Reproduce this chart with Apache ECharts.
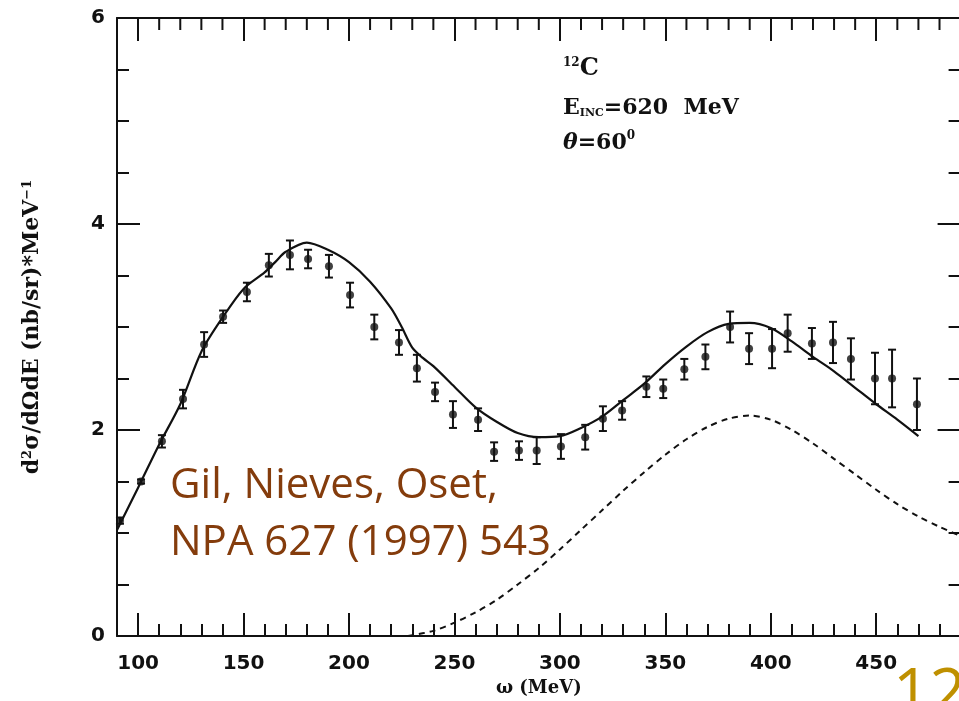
<!DOCTYPE html>
<html>
<head>
<meta charset="utf-8">
<script src="https://cdn.jsdelivr.net/npm/echarts@6/dist/echarts.min.js"></script>
<style>
html,body{margin:0;padding:0;background:#fff;}
#chart{width:959px;height:701px;}
</style>
</head>
<body>
<div id="chart"></div>
<script>
// ---- data ----
var omega = [91.4, 101.4, 111.3, 121.3, 131.3, 140.3, 151.6, 162.0, 172.0, 180.6, 190.5, 200.5, 212.0, 223.7, 232.2, 240.8, 249.3, 261.2, 268.8, 280.6, 289.0, 300.5, 312.0, 320.4, 329.5, 341.0, 349.0, 359.0, 369.0, 380.7, 389.7, 400.6, 408.0, 419.5, 429.5, 438.0, 449.4, 457.5, 469.3];
var sigma = [1.12, 1.50, 1.89, 2.30, 2.83, 3.10, 3.34, 3.60, 3.70, 3.66, 3.59, 3.31, 3.00, 2.85, 2.60, 2.37, 2.15, 2.10, 1.79, 1.80, 1.80, 1.84, 1.93, 2.11, 2.19, 2.42, 2.40, 2.59, 2.71, 3.00, 2.79, 2.79, 2.94, 2.84, 2.85, 2.69, 2.50, 2.50, 2.25];
var sigmaErr = [0.03, 0.02, 0.06, 0.09, 0.12, 0.06, 0.09, 0.11, 0.14, 0.09, 0.11, 0.12, 0.12, 0.12, 0.13, 0.09, 0.13, 0.11, 0.09, 0.09, 0.13, 0.12, 0.12, 0.12, 0.09, 0.10, 0.09, 0.10, 0.12, 0.15, 0.15, 0.19, 0.18, 0.15, 0.20, 0.20, 0.25, 0.28, 0.25];

var theoryOmega = [90, 100, 110, 120, 130, 140, 150, 160, 165, 170, 180, 190, 200, 210, 220, 225, 230, 235, 240, 250, 260, 270, 280, 290, 300, 310, 320, 330, 340, 350, 360, 370, 380, 390, 400, 410, 420, 430, 440, 450, 460, 470];
var theoryTotal = [1.03, 1.44, 1.86, 2.25, 2.76, 3.09, 3.37, 3.53, 3.63, 3.73, 3.82, 3.75, 3.63, 3.44, 3.18, 3.00, 2.80, 2.70, 2.62, 2.42, 2.22, 2.08, 1.97, 1.93, 1.94, 2.02, 2.13, 2.29, 2.45, 2.64, 2.81, 2.95, 3.03, 3.04, 2.99, 2.86, 2.71, 2.57, 2.41, 2.25, 2.10, 1.94];

var partOmega = [228, 240, 250, 260, 270, 280, 290, 300, 310, 320, 330, 340, 350, 360, 370, 380, 390, 400, 410, 420, 430, 440, 450, 460, 470, 480, 490];
var partValue = [0.00, 0.05, 0.13, 0.23, 0.35, 0.50, 0.66, 0.84, 1.03, 1.22, 1.41, 1.59, 1.76, 1.91, 2.03, 2.11, 2.14, 2.10, 2.00, 1.87, 1.72, 1.57, 1.42, 1.28, 1.16, 1.06, 0.97];

var xMajorTicks = [100, 150, 200, 250, 300, 350, 400, 450];
var xMinorTicks = [110, 120, 130, 140, 160, 170, 180, 190, 210, 220, 230, 240, 260, 270, 280, 290, 310, 320, 330, 340, 360, 370, 380, 390, 410, 420, 430, 440, 460, 470, 480];
var yTickLabels = [0, 2, 4, 6];
var yTop = 6;

// ---- build ----
var pts = [], bars = [], total = [], part = [], topMinor = [];
for (var i = 0; i < omega.length; i++) {
  pts.push([omega[i], sigma[i]]);
  bars.push([omega[i], sigma[i] - sigmaErr[i], sigma[i] + sigmaErr[i]]);
}
for (var j = 0; j < theoryOmega.length; j++) total.push([theoryOmega[j], theoryTotal[j]]);
for (var k = 0; k < partOmega.length; k++) part.push([partOmega[k], partValue[k]]);
for (var m = 0; m < xMinorTicks.length; m++) topMinor.push([xMinorTicks[m], yTop]);

var tickFont = {fontFamily: 'DejaVu Sans', fontWeight: 'bold', fontSize: 20, color: '#111'};
var lineStyle = {color: '#111', width: 2};
var tickLine = {color: '#111', width: 2};

function tickAxis(grid, pos, values, len, showLine) {
  return {
    type: 'value', gridIndex: grid, position: pos, min: 90, max: 490,
    axisLine: {show: !!showLine, onZero: false, lineStyle: lineStyle},
    axisTick: {show: true, inside: true, length: len, customValues: values, lineStyle: tickLine},
    axisLabel: {show: false},
    splitLine: {show: false}
  };
}
function yAx(pos, withLabel, extra) {
  var ax = {
    type: 'value', gridIndex: 0, position: pos, min: 0, max: 6, interval: 2,
    axisLine: {show: true, onZero: false, lineStyle: lineStyle},
    axisTick: {show: true, inside: true, length: 23, lineStyle: tickLine},
    minorTick: {show: true, splitNumber: 4, length: 12, lineStyle: tickLine},
    axisLabel: withLabel ? Object.assign({show: true, margin: 12, formatter: function (v) { return yTickLabels.indexOf(v) >= 0 ? String(v) : ''; }}, tickFont) : {show: false},
    splitLine: {show: false},
    minorSplitLine: {show: false}
  };
  return Object.assign(ax, extra || {});
}

var gridBox = {left: 117, top: 18, width: 843.6, height: 618, outerBoundsMode: 'none', containLabel: false};

var chart = echarts.init(document.getElementById('chart'), null, {renderer: 'canvas'});
chart.setOption({
  backgroundColor: '#fff',
  animation: false,
  grid: [Object.assign({}, gridBox), Object.assign({}, gridBox)],
  xAxis: [
    {
      type: 'value', gridIndex: 0, position: 'bottom', min: 90, max: 490, interval: 10,
      axisLine: {show: true, onZero: false, lineStyle: lineStyle},
      axisTick: {show: true, inside: true, length: 12, lineStyle: tickLine},
      axisLabel: Object.assign({show: true, margin: 18, customValues: xMajorTicks}, tickFont),
      splitLine: {show: false},
      name: 'ω (MeV)', nameLocation: 'middle', nameGap: 42,
      nameTextStyle: {fontFamily: 'DejaVu Serif', fontWeight: 'bold', fontSize: 18, color: '#111'}
    },
    tickAxis(1, 'bottom', xMajorTicks, 23, false),
    tickAxis(1, 'top', xMajorTicks, 23, true)
  ],
  yAxis: [
    yAx('left', true, {
      name: 'd{sup|2}σ/dΩdE (nb/sr)*MeV{sup|−1}', nameLocation: 'middle', nameGap: 74, nameRotate: 90,
      nameTextStyle: {fontFamily: 'DejaVu Serif', fontWeight: 'bold', fontSize: 22, color: '#111',
        rich: {sup: {fontFamily: 'DejaVu Serif', fontWeight: 'bold', fontSize: 13, color: '#111', verticalAlign: 'top', lineHeight: 13}}}
    }),
    yAx('right', false),
    {type: 'value', gridIndex: 1, min: 0, max: 6, show: false, axisLine: {onZero: false}}
  ],
  graphic: [
    {type: 'text', left: 563, top: 57, style: {
      rich: {s: {fontFamily: 'DejaVu Serif', fontWeight: 'bold', fontSize: 12, fill: '#111', padding: [0, 0, 12, 0]},
             b: {fontFamily: 'DejaVu Serif', fontWeight: 'bold', fontSize: 24, fill: '#111'}},
      text: '{s|12}{b|C}'}},
    {type: 'text', left: 563, top: 97, style: {
      rich: {b: {fontFamily: 'DejaVu Serif', fontWeight: 'bold', fontSize: 22, fill: '#111'},
             sub: {fontFamily: 'DejaVu Serif', fontWeight: 'bold', fontSize: 11, fill: '#111', padding: [10, 0, 0, 0]}},
      text: '{b|E}{sub|INC}{b|=620  MeV}'}},
    {type: 'text', left: 563, top: 130, style: {
      rich: {i: {fontFamily: 'DejaVu Serif', fontWeight: 'bold', fontStyle: 'italic', fontSize: 22, fill: '#111'},
             b: {fontFamily: 'DejaVu Serif', fontWeight: 'bold', fontSize: 22, fill: '#111'},
             s: {fontFamily: 'DejaVu Serif', fontWeight: 'bold', fontSize: 12, fill: '#111', padding: [0, 0, 14, 0]}},
      text: '{i|θ}{b|=60}{s|0}'}},
    {type: 'text', left: 170, top: 458, style: {
      text: 'Gil, Nieves, Oset,\nNPA 627 (1997) 543', fill: '#843C0C',
      fontFamily: 'Open Sans', fontSize: 42, lineHeight: 57}},
    {type: 'text', left: 893, top: 664, style: {
      text: '12', fill: '#BF9000', fontFamily: 'Open Sans', fontSize: 64}}
  ],
  series: [
    {type: 'line', xAxisIndex: 0, yAxisIndex: 0, data: total, smooth: 0.3, showSymbol: false,
     lineStyle: {color: '#111', width: 2.2}, z: 3},
    {type: 'line', xAxisIndex: 0, yAxisIndex: 0, data: part, smooth: 0.3, showSymbol: false,
     lineStyle: {color: '#111', width: 2, type: [6, 5]}, z: 3},
    {type: 'custom', xAxisIndex: 0, yAxisIndex: 0, data: bars, encode: {x: 0, y: [1, 2]}, z: 4,
     renderItem: function (params, api) {
       var x = api.value(0);
       var top = api.coord([x, api.value(2)]);
       var bot = api.coord([x, api.value(1)]);
       var w = 4;
       var st = {stroke: '#111', lineWidth: 2};
       return {type: 'group', children: [
         {type: 'line', shape: {x1: top[0], y1: top[1], x2: bot[0], y2: bot[1]}, style: st},
         {type: 'line', shape: {x1: top[0] - w, y1: top[1], x2: top[0] + w, y2: top[1]}, style: st},
         {type: 'line', shape: {x1: bot[0] - w, y1: bot[1], x2: bot[0] + w, y2: bot[1]}, style: st}
       ]};
     }},
    {type: 'scatter', xAxisIndex: 0, yAxisIndex: 0, data: pts, symbol: 'circle', symbolSize: 8,
     itemStyle: {color: '#111'}, z: 5},
    // short inward ticks along the top frame (every 10 MeV), placed through the x scale
    {type: 'custom', xAxisIndex: 0, yAxisIndex: 0, data: topMinor, encode: {x: 0, y: 1}, z: 6, silent: true,
     renderItem: function (params, api) {
       var p = api.coord([api.value(0), api.value(1)]);
       return {type: 'line', shape: {x1: p[0], y1: p[1], x2: p[0], y2: p[1] + 12},
               style: {stroke: '#111', lineWidth: 2}};
     }}
  ]
});
</script>
</body>
</html>
